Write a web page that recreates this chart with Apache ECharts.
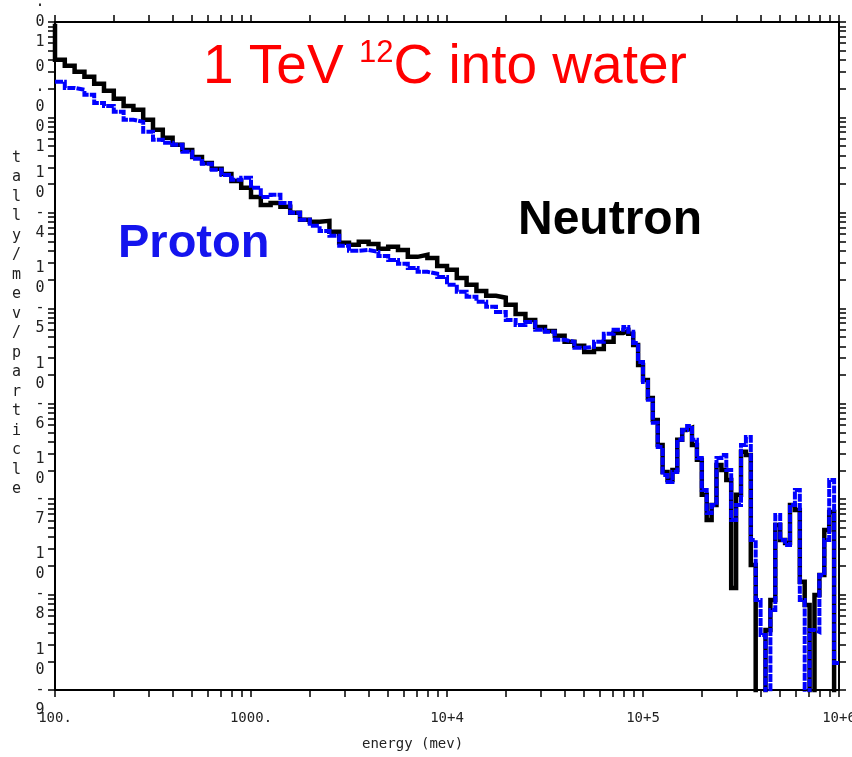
<!DOCTYPE html>
<html>
<head>
<meta charset="utf-8">
<script src="https://cdn.jsdelivr.net/npm/echarts@6/dist/echarts.min.js"></script>
<style>
  html, body { margin: 0; padding: 0; background: #ffffff; }
  #chart { width: 852px; height: 757px; }
</style>
</head>
<body>
<div id="chart"></div>
<script>
// Energy bin upper edges (MeV): 20 bins/decade below 8e4 MeV, 40 bins/decade above.
const energy = [
  100, 112.2, 125.9, 141.3, 158.5, 177.8, 199.5, 223.9, 251.2, 281.8,
  316.2, 354.8, 398.1, 446.7, 501.2, 562.3, 631.0, 707.9, 794.3, 891.3,
  1000, 1122, 1259, 1413, 1585, 1778, 1995, 2239, 2512, 2818,
  3162, 3548, 3981, 4467, 5012, 5623, 6310, 7079, 7943, 8913,
  10000, 11220, 12590, 14130, 15850, 17780, 19950, 22390, 25120, 28180,
  31620, 35480, 39810, 44670, 50120, 56230, 63100, 70790, 79430,
  84140, 89130, 94410, 100000, 105900, 112200, 118900, 125900, 133400, 141300,
  149600, 158500, 167900, 177800, 188400, 199500, 211300, 223900, 237100, 251200,
  266100, 281800, 298500, 316200, 335000, 354800, 375800, 398100, 421700, 446700,
  473200, 501200, 530900, 562300, 595700, 631000, 668300, 707900, 749900, 794300,
  841400, 891300, 944100, 1000000
];

// Neutron tally per bin (tally/MeV/particle)
const neutron = [
  9.6e-3, 4.02e-3, 3.48e-3, 3.01e-3, 2.67e-3, 2.25e-3, 1.90e-3, 1.57e-3, 1.32e-3, 1.20e-3,
  9.44e-4, 7.41e-4, 6.11e-4, 5.16e-4, 4.57e-4, 3.86e-4, 3.34e-4, 2.89e-4, 2.56e-4, 2.16e-4,
  1.83e-4, 1.47e-4, 1.21e-4, 1.27e-4, 1.16e-4, 1.0e-4, 8.45e-5, 8.05e-5, 8.24e-5, 6.32e-5,
  4.85e-5, 4.62e-5, 4.97e-5, 4.73e-5, 4.20e-5, 4.41e-5, 4.09e-5, 3.46e-5, 3.63e-5, 3.37e-5,
  2.78e-5, 2.53e-5, 2.08e-5, 1.76e-5, 1.52e-5, 1.35e-5, 1.29e-5, 1.09e-5, 8.73e-6, 7.55e-6,
  6.38e-6, 5.79e-6, 5.14e-6, 4.45e-6, 4.04e-6, 3.49e-6, 3.75e-6, 4.45e-6, 5.52e-6,
  5.79e-6, 5.40e-6, 4.13e-6, 2.55e-6, 1.77e-6, 1.15e-6, 6.76e-7, 3.70e-7, 1.93e-7, 1.59e-7,
  2.02e-7, 4.18e-7, 5.31e-7, 5.57e-7, 3.70e-7, 2.58e-7, 1.11e-7, 6.05e-8, 8.69e-8, 2.28e-7,
  2.02e-7, 1.59e-7, 1.17e-8, 1.11e-7, 3.13e-7, 2.90e-7, 2.04e-8, 5e-10, 5e-10, 4.26e-9,
  8.77e-9, 5.37e-8, 3.73e-8, 3.48e-8, 8.69e-8, 7.71e-8, 1.36e-8, 7.78e-9, 5e-10, 9.9e-9,
  1.60e-8, 4.75e-8, 7.35e-8, 5e-10
];

// Proton tally per bin (tally/MeV/particle)
const proton = [
  2.36e-3, 2.36e-3, 2.04e-3, 1.95e-3, 1.73e-3, 1.42e-3, 1.32e-3, 1.15e-3, 9.44e-4, 9.0e-4,
  7.06e-4, 5.82e-4, 5.42e-4, 5.16e-4, 4.36e-4, 3.68e-4, 3.27e-4, 2.83e-4, 2.50e-4, 2.22e-4,
  2.33e-4, 1.83e-4, 1.47e-4, 1.55e-4, 1.27e-4, 1.0e-4, 8.45e-5, 7.31e-5, 6.47e-5, 5.74e-5,
  4.51e-5, 4.0e-5, 4.09e-5, 3.90e-5, 3.54e-5, 3.21e-5, 2.92e-5, 2.65e-5, 2.41e-5, 2.30e-5,
  2.13e-5, 1.76e-5, 1.49e-5, 1.32e-5, 1.17e-5, 1.04e-5, 9.17e-6, 7.55e-6, 6.70e-6, 7.19e-6,
  5.94e-6, 5.66e-6, 4.67e-6, 4.45e-6, 3.85e-6, 3.94e-6, 4.45e-6, 5.40e-6, 5.94e-6,
  6.38e-6, 5.66e-6, 4.34e-6, 2.74e-6, 1.69e-6, 1.10e-6, 6.30e-7, 3.52e-7, 1.79e-7, 1.51e-7,
  1.93e-7, 4.18e-7, 5.31e-7, 5.85e-7, 4.18e-7, 2.70e-7, 1.25e-7, 7.16e-8, 8.69e-8, 2.70e-7,
  2.90e-7, 2.02e-7, 6.05e-8, 8.69e-8, 3.70e-7, 4.49e-7, 3.73e-8, 8.77e-9, 3.78e-9, 5e-10,
  6.90e-9, 6.82e-8, 3.73e-8, 3.31e-8, 8.69e-8, 1.25e-7, 8.77e-9, 5e-10, 4.26e-9, 4.06e-9,
  1.60e-8, 3.73e-8, 1.59e-7, 1.92e-9
];

// Axis label positions and their printed text
const xLabelValues = [100, 1000, 1e4, 1e5, 1e6];
const xLabelText = ['100.', '1000.', '10+4', '10+5', '10+6'];
const yLabelValues = [1e-9, 1e-8, 1e-7, 1e-6, 1e-5, 1e-4, 1e-3, 1e-2];
const yLabelText = ['10-9', '10-8', '10-7', '10-6', '10-5', '10-4', '0.001', '0.01'];

const X_MIN = 100, X_MAX = 1e6, Y_MIN = 1e-9, Y_MAX = 1e-2;

// log-decade tick marks: 1..9 x 10^n
function decadeTicks(lo, hi) {
  const out = [];
  for (let e = Math.round(Math.log10(lo)); e < Math.round(Math.log10(hi)); e++) {
    for (let m = 1; m <= 9; m++) out.push(m * Math.pow(10, e));
  }
  out.push(hi);
  return out;
}
// keep end values a hair inside the axis extent so they are not dropped
const inside = (vals, lo, hi) => vals.map(v => Math.min(Math.max(v, lo * (1 + 1e-7)), hi * (1 - 1e-7)));

const xTicks = inside(decadeTicks(X_MIN, X_MAX), X_MIN, X_MAX);
const yTicks = inside(decadeTicks(Y_MIN, Y_MAX), Y_MIN, Y_MAX);
// the tall stacked y labels are split over two coincident axes (alternate decades)
// so neighbouring labels never compete for space
const yLabelsA = inside(yLabelValues.filter((v, i) => i % 2 === 0), Y_MIN, Y_MAX);
const yLabelsB = inside(yLabelValues.filter((v, i) => i % 2 === 1), Y_MIN, Y_MAX);

function lookup(values, texts, v) {
  for (let i = 0; i < values.length; i++) {
    if (Math.abs(Math.log10(v) - Math.log10(values[i])) < 1e-4) return texts[i];
  }
  return '';
}
// stacked one character per line; the trailing blank line lifts the block
// so that the third character sits on the tick
const vertical = s => s.split('').join('\n') + '\n ';

const MONO = '"DejaVu Sans Mono", monospace';
const SANS = '"Liberation Sans", Arial, sans-serif';

function pairs(ys) { return energy.map((e, i) => [e, ys[i]]); }

function xAxisDef(pos, withLabels) {
  return {
    type: 'log', logBase: 10, min: X_MIN, max: X_MAX, position: pos,
    axisLine: { show: true, onZero: false, lineStyle: { color: '#000', width: 2 } },
    axisTick: { show: true, inside: false, length: 7, customValues: xTicks,
                lineStyle: { color: '#000', width: 1.5 } },
    minorTick: { show: false },
    splitLine: { show: false },
    axisLabel: withLabels ? {
      show: true, customValues: inside(xLabelValues, X_MIN, X_MAX), margin: 21,
      showMinLabel: true, showMaxLabel: true, hideOverlap: false,
      formatter: v => lookup(xLabelValues, xLabelText, v),
      fontFamily: MONO, fontSize: 14, color: '#222'
    } : { show: false }
  };
}

function yAxisDef(pos, withTicks, labelValues) {
  return {
    type: 'log', logBase: 10, min: Y_MIN, max: Y_MAX, position: pos, offset: 0,
    axisLine: { show: withTicks, onZero: false, lineStyle: { color: '#000', width: 2 } },
    axisTick: { show: withTicks, inside: false, length: 7, customValues: yTicks,
                lineStyle: { color: '#000', width: 1.5 } },
    minorTick: { show: false },
    splitLine: { show: false },
    axisLabel: labelValues ? {
      show: true, customValues: labelValues, margin: 15,
      showMinLabel: true, showMaxLabel: true, hideOverlap: false,
      formatter: v => vertical(lookup(yLabelValues, yLabelText, v)),
      fontFamily: MONO, fontSize: 15, lineHeight: 20, color: '#222',
      align: 'center', verticalAlign: 'middle'
    } : { show: false }
  };
}

const chart = echarts.init(document.getElementById('chart'), null, { renderer: 'canvas' });
chart.setOption({
  animation: false,
  backgroundColor: '#ffffff',
  grid: { left: 55, right: 13, top: 22, bottom: 67, containLabel: false, outerBoundsMode: 'none' },
  title: [
    {
      text: '{n|1 TeV }{s|12}{n|C into water}',
      left: 203, top: 38, padding: 0,
      textStyle: {
        fontWeight: 'normal',
        rich: {
          n: { fontFamily: SANS, fontWeight: 'normal', fontSize: 55, lineHeight: 60, color: '#ff0000', verticalAlign: 'middle' },
          s: { fontFamily: SANS, fontWeight: 'normal', fontSize: 31, lineHeight: 40, color: '#ff0000', verticalAlign: 'top' }
        }
      }
    },
    {
      text: 'Neutron', left: 518, top: 197, padding: 0,
      textStyle: { fontFamily: SANS, fontWeight: 'bold', fontSize: 48, lineHeight: 48, color: '#000000' }
    },
    {
      text: 'Proton', left: 118, top: 221, padding: 0,
      textStyle: { fontFamily: SANS, fontWeight: 'bold', fontSize: 47, lineHeight: 47, color: '#1414ee' }
    }
  ],
  // axis titles, placed where the plotting program printed them
  graphic: [
    {
      type: 'text', left: 362, top: 737, silent: true,
      style: { text: 'energy (mev)', font: '14px ' + MONO, fill: '#222' }
    },
    {
      type: 'text', left: 12, top: 148, silent: true,
      style: { text: 'tally/mev/particle'.split('').join('\n'), font: '15px ' + MONO,
               lineHeight: 19.5, fill: '#222', align: 'center' }
    }
  ],
  xAxis: [xAxisDef('bottom', true), xAxisDef('top', false)],
  yAxis: [
    yAxisDef('left', true, yLabelsA),
    yAxisDef('left', false, yLabelsB),
    yAxisDef('right', true, null)
  ],
  series: [
    {
      name: 'Neutron', type: 'line', step: 'start', showSymbol: false, symbol: 'none',
      xAxisIndex: 0, yAxisIndex: 0, clip: true,
      lineStyle: { color: '#000000', width: 4.5, cap: 'butt', join: 'miter' },
      data: pairs(neutron), z: 2
    },
    {
      name: 'Proton', type: 'line', step: 'start', showSymbol: false, symbol: 'none',
      xAxisIndex: 0, yAxisIndex: 0, clip: true,
      lineStyle: { color: '#0000ff', width: 4, type: [8, 1.2], cap: 'butt', join: 'miter' },
      data: pairs(proton), z: 3
    }
  ]
});
</script>
</body>
</html>
